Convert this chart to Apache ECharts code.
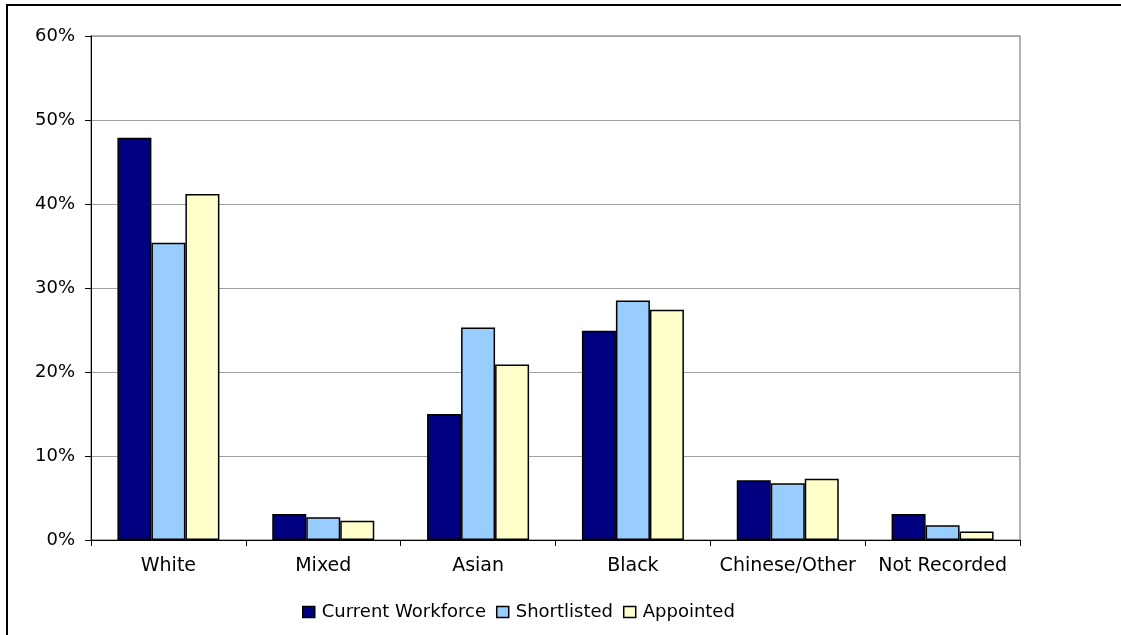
<!DOCTYPE html>
<html>
<head>
<meta charset="utf-8">
<script src="https://cdn.jsdelivr.net/npm/echarts@6/dist/echarts.min.js"></script>
<style>
  html, body { margin: 0; padding: 0; background: #fff; }
  #chart { width: 1121px; height: 635px; }
</style>
</head>
<body>
<div id="chart"></div>
<script>
const categories = ['White', 'Mixed', 'Asian', 'Black', 'Chinese/Other', 'Not Recorded']
const currentWorkforce = [47.9, 3.1, 15.0, 24.9, 7.1, 3.1]
const shortlisted = [35.4, 2.7, 25.3, 28.5, 6.75, 1.75]
const appointed = [41.2, 2.3, 20.9, 27.4, 7.3, 1.0]
const yTicks = [0, 10, 20, 30, 40, 50, 60]

// 原图文字横向偏宽，用 DejaVu Sans 近似
const font = 'DejaVu Sans, Liberation Sans, Arial, sans-serif'

const chart = echarts.init(document.getElementById('chart'))

function barSeries(name, data, color) {
  return {
    name: name,
    type: 'bar',
    data: data,
    barWidth: 34,
    barGap: '0%',
    itemStyle: { color: color, borderColor: '#000', borderWidth: 1.5 }
  }
}

chart.setOption({
  animation: false,
  graphic: [
    {
      // 外边框
      type: 'rect',
      shape: { x: 7, y: 5, width: 1130, height: 650 },
      style: { fill: 'none', stroke: '#000', lineWidth: 2 },
      silent: true
    },
    {
      // 绘图区边框
      type: 'rect',
      shape: { x: 91, y: 36, width: 929, height: 504 },
      style: { fill: 'none', stroke: '#999', lineWidth: 1.5 },
      silent: true,
      z: 0
    }
  ],
  grid: { left: 91, right: 101, top: 36, bottom: 95 },
  legend: {
    top: 598,
    left: 297,
    itemWidth: 12,
    itemHeight: 11,
    itemGap: 10,
    icon: 'rect',
    itemStyle: { borderColor: '#000', borderWidth: 1.5 },
    textStyle: { fontFamily: font, fontSize: 18, color: '#000', padding: [0, 0, 0, 2] },
    data: ['Current Workforce', 'Shortlisted', 'Appointed']
  },
  xAxis: {
    type: 'category',
    data: categories,
    axisLine: { lineStyle: { color: '#000', width: 1 } },
    axisTick: { show: true, length: 6, lineStyle: { color: '#000' } },
    axisLabel: { fontFamily: font, fontSize: 19, color: '#000', margin: 17, interval: 0 }
  },
  yAxis: {
    type: 'value',
    min: yTicks[0],
    max: yTicks[yTicks.length - 1],
    interval: 10,
    axisLine: { show: true, lineStyle: { color: '#000', width: 1 } },
    axisTick: { show: true, length: 6, lineStyle: { color: '#000' } },
    axisLabel: { fontFamily: font, fontSize: 18, color: '#000', margin: 16, formatter: '{value}%' },
    splitLine: { show: true, lineStyle: { color: '#a0a0a0', width: 1 } }
  },
  series: [
    barSeries('Current Workforce', currentWorkforce, '#000080'),
    barSeries('Shortlisted', shortlisted, '#99ccff'),
    barSeries('Appointed', appointed, '#ffffcc')
  ]
})
</script>
</body>
</html>
